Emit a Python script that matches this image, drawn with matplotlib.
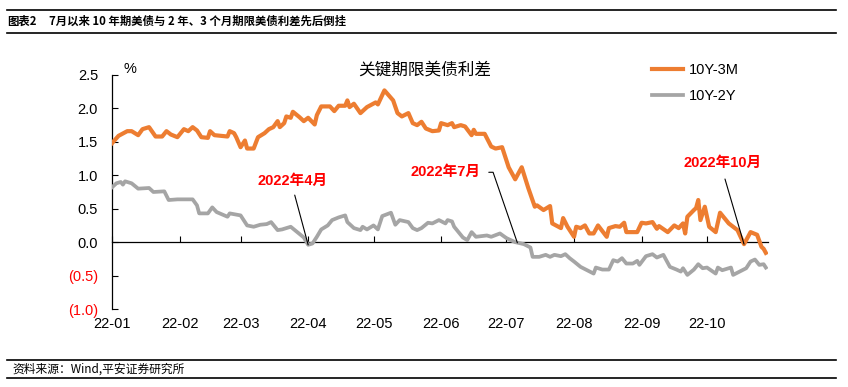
import matplotlib
matplotlib.use("Agg")
import matplotlib.pyplot as plt
from matplotlib.lines import Line2D
import pandas as pd

plt.rcParams['font.family'] = ['Liberation Sans', 'Noto Sans CJK SC', 'DejaVu Sans']
plt.rcParams['axes.unicode_minus'] = False

# ---------------- data ----------------
dates_3m = ['01-03', '01-06', '01-10', '01-12', '01-15', '01-17', '01-20', '01-23', '01-26', '01-28',
            '01-30', '02-02', '02-05', '02-07', '02-09', '02-11', '02-13', '02-16', '02-17', '02-19',
            '02-25', '02-26', '02-28', '03-01', '03-03', '03-05', '03-06', '03-09', '03-11', '03-14',
            '03-16', '03-18', '03-20', '03-21', '03-23', '03-24', '03-26', '03-27', '03-30', '04-01',
            '04-03', '04-06', '04-07', '04-09', '04-12', '04-13', '04-15', '04-17', '04-20', '04-21',
            '04-22', '04-24', '04-27', '04-30', '05-04', '05-05', '05-08', '05-12', '05-14', '05-16',
            '05-19', '05-21', '05-23', '05-25', '05-27', '05-30', '06-02', '06-03', '06-06', '06-08',
            '06-09', '06-12', '06-14', '06-17', '06-18', '06-19', '06-23', '06-26', '06-28', '07-01',
            '07-04', '07-07', '07-10', '07-13', '07-16', '07-17', '07-20', '07-22', '07-23', '07-24',
            '07-28', '07-29', '07-31', '08-03', '08-04', '08-06', '08-08', '08-10', '08-12', '08-14',
            '08-18', '08-19', '08-22', '08-24', '08-26', '08-27', '09-01', '09-03', '09-05', '09-08',
            '09-10', '09-11', '09-15', '09-18', '09-20', '09-22', '09-23', '09-24', '09-27', '09-28',
            '09-29', '09-30', '10-02', '10-04', '10-07', '10-09', '10-13', '10-17', '10-20', '10-23',
            '10-26', '10-28', '10-29', '10-30']
spread_10y3m = [1.48, 1.59, 1.66, 1.66, 1.60, 1.69, 1.72, 1.58, 1.58, 1.66,
                1.61, 1.57, 1.69, 1.66, 1.72, 1.67, 1.57, 1.56, 1.66, 1.60,
                1.58, 1.66, 1.63, 1.57, 1.42, 1.52, 1.40, 1.40, 1.57, 1.63,
                1.69, 1.72, 1.81, 1.72, 1.78, 1.88, 1.86, 1.95, 1.87, 1.81,
                1.86, 1.76, 1.90, 2.03, 2.03, 2.03, 1.96, 2.04, 2.04, 2.12,
                2.02, 2.07, 1.93, 2.02, 2.09, 2.06, 2.27, 2.12, 1.93, 1.88,
                1.93, 1.78, 1.75, 1.80, 1.70, 1.66, 1.67, 1.78, 1.75, 1.78,
                1.72, 1.75, 1.73, 1.60, 1.68, 1.62, 1.62, 1.43, 1.40, 1.42,
                1.12, 0.94, 1.12, 0.81, 0.53, 0.55, 0.48, 0.52, 0.54, 0.28,
                0.21, 0.36, 0.23, 0.08, 0.23, 0.21, 0.25, 0.13, 0.13, 0.25,
                0.08, 0.21, 0.24, 0.23, 0.29, 0.15, 0.15, 0.29, 0.28, 0.30,
                0.20, 0.24, 0.15, 0.25, 0.21, 0.28, 0.13, 0.38, 0.48, 0.51,
                0.63, 0.33, 0.53, 0.23, 0.15, 0.44, 0.28, 0.18, -0.03, 0.15,
                0.11, -0.07, -0.10, -0.16]

dates_2y = ['01-03', '01-05', '01-07', '01-08', '01-09', '01-12', '01-15', '01-20', '01-22', '01-27',
            '01-29', '02-02', '02-09', '02-11', '02-12', '02-16', '02-18', '02-20', '02-25', '02-26',
            '03-03', '03-06', '03-09', '03-12', '03-15', '03-17', '03-20', '03-22', '03-26', '03-29',
            '04-01', '04-03', '04-05', '04-07', '04-09', '04-12', '04-14', '04-17', '04-20', '04-21',
            '04-24', '04-27', '04-28', '04-30', '05-03', '05-05', '05-07', '05-11', '05-13', '05-15',
            '05-19', '05-21', '05-23', '05-25', '05-28', '05-30', '06-02', '06-05', '06-06', '06-08',
            '06-09', '06-13', '06-15', '06-17', '06-19', '06-24', '06-26', '06-30', '07-03', '07-07',
            '07-11', '07-14', '07-15', '07-18', '07-21', '07-23', '07-25', '07-28', '07-30', '08-01',
            '08-03', '08-06', '08-09', '08-12', '08-13', '08-16', '08-19', '08-21', '08-23', '08-25',
            '08-27', '08-30', '09-01', '09-02', '09-05', '09-08', '09-10', '09-13', '09-16', '09-19',
            '09-21', '09-22', '09-24', '09-27', '09-29', '10-01', '10-03', '10-07', '10-08', '10-10',
            '10-14', '10-15', '10-18', '10-21', '10-23', '10-25', '10-27', '10-29', '10-30']
spread_10y2y = [0.82, 0.88, 0.90, 0.86, 0.91, 0.88, 0.80, 0.81, 0.75, 0.76,
                0.63, 0.64, 0.64, 0.55, 0.43, 0.43, 0.52, 0.45, 0.38, 0.43,
                0.40, 0.25, 0.23, 0.26, 0.27, 0.30, 0.18, 0.19, 0.23, 0.15,
                0.07, -0.04, -0.02, 0.08, 0.19, 0.25, 0.33, 0.37, 0.40, 0.30,
                0.21, 0.18, 0.23, 0.19, 0.25, 0.19, 0.39, 0.44, 0.26, 0.33,
                0.30, 0.21, 0.18, 0.21, 0.29, 0.28, 0.33, 0.28, 0.33, 0.31,
                0.23, 0.07, 0.03, 0.15, 0.08, 0.10, 0.08, 0.13, 0.06, 0.00,
                -0.03, -0.08, -0.22, -0.22, -0.19, -0.22, -0.19, -0.21, -0.18, -0.24,
                -0.29, -0.37, -0.42, -0.47, -0.38, -0.41, -0.41, -0.27, -0.29, -0.24,
                -0.32, -0.32, -0.28, -0.34, -0.21, -0.18, -0.23, -0.19, -0.37, -0.41,
                -0.44, -0.39, -0.49, -0.41, -0.33, -0.39, -0.38, -0.47, -0.38, -0.42,
                -0.38, -0.49, -0.44, -0.39, -0.29, -0.26, -0.34, -0.33, -0.38]

series_names = ['10Y-3M', '10Y-2Y']
series_colors = ['#ED7D31', '#A5A5A5']

ytick_values = [-1.0, -0.5, 0.0, 0.5, 1.0, 1.5, 2.0, 2.5]
ytick_labels = ['(1.0)', '(0.5)', '0.0', '0.5', '1.0', '1.5', '2.0', '2.5']
xtick_dates = ['01-03', '02-03', '03-03', '04-03', '05-03', '06-03', '07-03', '08-03', '09-03', '10-03']
xtick_labels = ['22-01', '22-02', '22-03', '22-04', '22-05', '22-06', '22-07', '22-08', '22-09', '22-10']

# annotations: label, text position (date, value), target (date, value)
ann_texts = ['2022年4月', '2022年7月', '2022年10月']
ann_text_dates = ['03-27', '06-05', '10-10']
ann_text_vals = [0.91, 1.045, 1.19]
ann_target_dates = ['04-03', '07-08', '10-20']
ann_target_vals = [-0.04, -0.01, -0.03]


def to_dt(lst):
    return pd.to_datetime(['2022-' + s for s in lst])


# ---------------- figure ----------------
W, H = 848, 387
fig = plt.figure(figsize=(W / 100, H / 100), dpi=100)
ax = fig.add_axes([112 / W, 1 - 309 / H, (768 - 112) / W, (309 - 75) / H])

x3m = to_dt(dates_3m)
x2y = to_dt(dates_2y)
ax.plot(x3m, spread_10y3m, color=series_colors[0], lw=3.0, label=series_names[0],
        zorder=4, solid_joinstyle='round')
ax.plot(x2y, spread_10y2y, color=series_colors[1], lw=2.7, label=series_names[1],
        zorder=3, solid_joinstyle='round')

ax.set_xlim(pd.Timestamp('2022-01-03'), pd.Timestamp('2022-10-31'))
ax.set_ylim(-1.0, 2.5)

ax.set_yticks(ytick_values)
ax.set_yticklabels(ytick_labels)
for lab, v in zip(ax.get_yticklabels(), ytick_values):
    lab.set_color('#FF0000' if v < 0 else 'black')
ax.tick_params(axis='y', direction='in', length=4, width=0.8, pad=10, labelsize=10.5)

ax.set_xticks(to_dt(xtick_dates))
ax.set_xticklabels(xtick_labels)
ax.tick_params(axis='x', direction='in', length=4, width=0.8, pad=54, labelsize=10.5)

ax.spines['top'].set_visible(False)
ax.spines['right'].set_visible(False)
ax.spines['bottom'].set_position(('data', 0))
for s in ('left', 'bottom'):
    ax.spines[s].set_linewidth(0.9)
ax.patch.set_alpha(0)

cjk = ['Noto Sans CJK SC', 'DejaVu Sans']

# chart inner title and unit
fig.text(425 / W, 1 - 70 / H, '关键期限美债利差', ha='center', va='center',
         fontsize=12, family=cjk)
fig.text(130 / W, 1 - 69 / H, '%', ha='center', va='center', fontsize=10.5)

# legend
ax.legend(loc='upper left', bbox_to_anchor=(652 / W, 1 - 63 / H), bbox_transform=fig.transFigure,
          frameon=False, fontsize=10.5, handlelength=2.1, handletextpad=0.4,
          labelspacing=0.85, borderpad=0, borderaxespad=0)

# annotations
ann_styles = [
    dict(arrowstyle='-', color='black', lw=0.8, relpos=(0.5, 0.0), shrinkA=3, shrinkB=0),
    dict(arrowstyle='-', color='black', lw=0.8, relpos=(1.0, 0.5), shrinkA=4, shrinkB=0,
         connectionstyle='angle,angleA=0,angleB=109,rad=0'),
    dict(arrowstyle='-', color='black', lw=0.8, relpos=(0.5, 0.0), shrinkA=5, shrinkB=0),
]
for txt, td, tv, pd_, pv, st in zip(ann_texts, to_dt(ann_text_dates), ann_text_vals,
                                     to_dt(ann_target_dates), ann_target_vals, ann_styles):
    ax.annotate(txt, xy=(pd_, pv), xytext=(td, tv), textcoords='data',
                ha='center', va='center', fontsize=10.5, fontweight='bold', color='#FF0000',
                arrowprops=st, zorder=6)

# header and footer
fig.add_artist(Line2D([7 / W, 836 / W], [1 - 10 / H] * 2, transform=fig.transFigure, color='black', lw=1.2))
fig.add_artist(Line2D([7 / W, 836 / W], [1 - 33 / H] * 2, transform=fig.transFigure, color='black', lw=1.2))
fig.text(7 / W, 1 - 21.5 / H, '图表2', ha='left', va='center', fontsize=8.2, fontweight='heavy', family=cjk)
fig.text(49 / W, 1 - 21.5 / H, '7月以来 10 年期美债与 2 年、3 个月期限美债利差先后倒挂',
         ha='left', va='center', fontsize=8.2, fontweight='heavy', family=cjk)

fig.add_artist(Line2D([7 / W, 836 / W], [1 - 360 / H] * 2, transform=fig.transFigure, color='black', lw=1.2))
fig.add_artist(Line2D([7 / W, 836 / W], [1 - 378 / H] * 2, transform=fig.transFigure, color='black', lw=1.2))
fig.text(12 / W, 1 - 369 / H, '资料来源：Wind,平安证券研究所', ha='left', va='center',
         fontsize=8.5, style='italic', family=cjk)

fig.savefig('out.png', dpi=100)
